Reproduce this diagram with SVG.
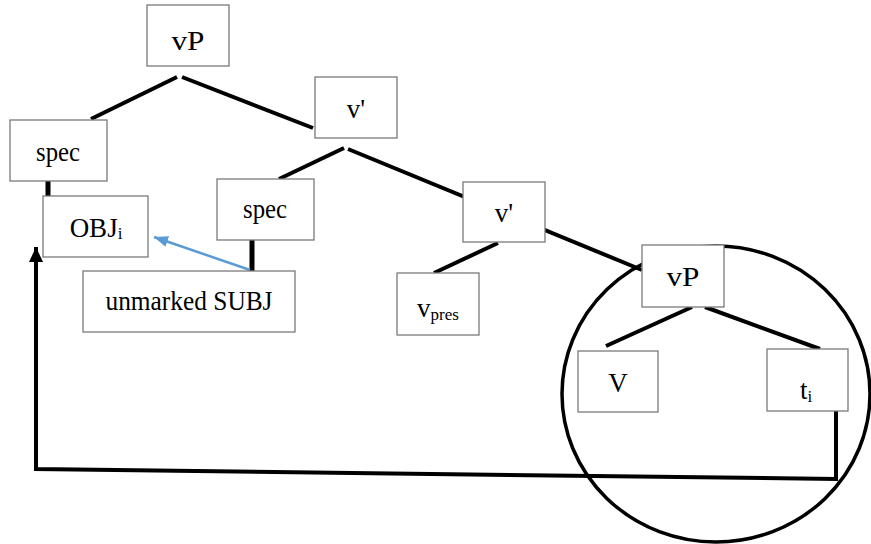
<svg xmlns="http://www.w3.org/2000/svg" width="871" height="544" viewBox="0 0 871 544">
<style>
.box{fill:#fff;stroke:#7a7a7a;stroke-width:1.3}
.t{font-family:"Liberation Serif","Times New Roman",serif;font-size:27px;fill:#000;text-anchor:middle}
.sub{font-size:17px}
.edge{stroke:#000;stroke-width:4;fill:none;stroke-linecap:butt}
.stem{stroke:#000;stroke-width:5;fill:none}
</style>
<defs>
<marker id="ah" markerUnits="userSpaceOnUse" markerWidth="16" markerHeight="16" refX="15" refY="7" orient="auto">
<path d="M0,0 L15,7 L0,14 Z" fill="#000"/>
</marker>
<marker id="bh" markerUnits="userSpaceOnUse" markerWidth="15" markerHeight="12" refX="14" refY="5.5" orient="auto">
<path d="M0,0 L14,5.5 L0,11 Z" fill="#5B9BD5"/>
</marker>
</defs>
<g id="circle">
<ellipse cx="716" cy="394" rx="154" ry="148" fill="none" stroke="#000" stroke-width="3.5"/>
</g>
<g id="connectors">
<line class="edge" x1="177" y1="77" x2="91" y2="119"/>
<line class="edge" x1="182" y1="77" x2="313" y2="128"/>
<line class="edge" x1="344" y1="148" x2="279" y2="179"/>
<line class="edge" x1="348" y1="149" x2="642" y2="270"/>
<line class="edge" x1="498" y1="243" x2="434" y2="273"/>
<line class="edge" x1="692" y1="307" x2="606" y2="346"/>
<line class="edge" x1="705" y1="307" x2="820" y2="349"/>
<line class="stem" x1="48" y1="181" x2="48" y2="196"/>
<line class="stem" x1="252" y1="240" x2="252" y2="271"/>
<line x1="250" y1="270" x2="154" y2="237" stroke="#5B9BD5" stroke-width="2.5" marker-end="url(#bh)"/>
<polyline class="edge" points="836,411 836,479 36,469 36,247" marker-end="url(#ah)"/>
</g>
<g id="n-vP"><rect class="box" x="147" y="5" width="82" height="61"/><text class="t" x="188" y="50" textLength="33" lengthAdjust="spacingAndGlyphs">vP</text></g>
<g id="n-v1"><rect class="box" x="315" y="77" width="82" height="61"/><text class="t" x="356" y="118">v'</text></g>
<g id="n-spec1"><rect class="box" x="10" y="120" width="97" height="61"/><text class="t" x="58" y="161" textLength="44" lengthAdjust="spacingAndGlyphs">spec</text></g>
<g id="n-obj"><rect class="box" x="43" y="196" width="105" height="61"/><text class="t" x="96" y="237">OBJ<tspan class="sub" dy="2">i</tspan></text></g>
<g id="n-spec2"><rect class="box" x="217" y="179" width="97" height="61"/><text class="t" x="265" y="218" textLength="44" lengthAdjust="spacingAndGlyphs">spec</text></g>
<g id="n-subj"><rect class="box" x="83" y="271" width="212" height="61"/><text class="t" x="189" y="310" textLength="167" lengthAdjust="spacingAndGlyphs">unmarked SUBJ</text></g>
<g id="n-v2"><rect class="box" x="463" y="182" width="82" height="60"/><text class="t" x="504" y="222">v'</text></g>
<g id="n-vpres"><rect class="box" x="397" y="273" width="82" height="62"/><text class="t" x="438" y="317">v<tspan class="sub" dy="3">pres</tspan></text></g>
<g id="n-vP2"><rect class="box" x="642" y="245" width="82" height="62"/><text class="t" x="683" y="286" textLength="33" lengthAdjust="spacingAndGlyphs">vP</text></g>
<g id="n-V"><rect class="box" x="578" y="351" width="80" height="61"/><text class="t" x="618" y="392">V</text></g>
<g id="n-t"><rect class="box" x="767" y="349" width="81" height="62"/><text class="t" x="806" y="399">t<tspan class="sub" dy="3">i</tspan></text></g>
</svg>
